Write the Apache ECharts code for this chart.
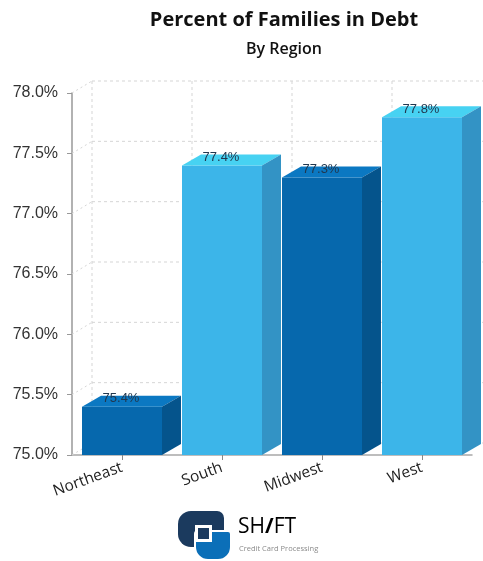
<!DOCTYPE html>
<html>
<head>
<meta charset="utf-8">
<script src="https://cdn.jsdelivr.net/npm/echarts@6/dist/echarts.min.js"></script>
<style>
  html, body { margin: 0; padding: 0; background: #ffffff; }
  #chart { width: 483px; height: 561px; }
</style>
</head>
<body>
<div id="chart"></div>
<script>
// Share of families carrying debt, by US region
const regions = ['Northeast', 'South', 'Midwest', 'West'];
const debtShare = [75.4, 77.4, 77.3, 77.8];
const yTicks = [75.0, 75.5, 76.0, 76.5, 77.0, 77.5, 78.0];

// Face colours (front / top / side) alternating dark and light blue
const palettes = [
  { front: '#0668ad', top: '#0b78c2', side: '#05548c' },
  { front: '#3cb5e9', top: '#47d2f2', side: '#3393c5' }
];

// Extrusion offsets for the pseudo-3D look
const BAR_DX = 19, BAR_DY = -11;
const WALL_DX = 20, WALL_DY = -12;
const GRID_COLOR = '#d6d6d6';
const SANS = '"Open Sans", Inter, sans-serif';

const chart = echarts.init(document.getElementById('chart'), null, { renderer: 'canvas' });

function renderBar(params, api) {
  const idx = api.value(0);
  const val = api.value(1);
  const band = api.size([1, 0])[0];
  const w = band * 0.8;
  const top = api.coord([idx, val]);
  const base = api.coord([idx, yTicks[0]]);
  const x0 = top[0] - w / 2, x1 = top[0] + w / 2;
  const yt = top[1], yb = base[1];
  const pal = palettes[idx % 2];
  return {
    type: 'group',
    children: [
      { type: 'rect', shape: { x: x0, y: yt, width: w, height: yb - yt }, style: { fill: pal.front } },
      { type: 'polygon', shape: { points: [[x0, yt], [x0 + BAR_DX, yt + BAR_DY], [x1 + BAR_DX, yt + BAR_DY], [x1, yt]] }, style: { fill: pal.top } },
      { type: 'polygon', shape: { points: [[x1, yt], [x1 + BAR_DX, yt + BAR_DY], [x1 + BAR_DX, yb + BAR_DY], [x1, yb]] }, style: { fill: pal.side } },
      {
        type: 'text',
        x: top[0] - 1, y: yt - 8,
        style: {
          text: val.toFixed(1) + '%',
          fill: '#22384f',
          font: '13px "Liberation Sans", Arial, sans-serif',
          align: 'center', verticalAlign: 'middle'
        }
      }
    ]
  };
}

function renderWallRow(params, api) {
  const v = api.value(0);
  const cs = params.coordSys;
  const p = api.coord([0, v]);
  const x = cs.x;
  return {
    type: 'group',
    children: [
      { type: 'line', shape: { x1: x, y1: p[1], x2: x + WALL_DX, y2: p[1] + WALL_DY }, style: { stroke: GRID_COLOR, lineWidth: 1, lineDash: [2, 3] } },
      { type: 'line', shape: { x1: x + WALL_DX, y1: p[1] + WALL_DY, x2: cs.x + cs.width + WALL_DX + 20, y2: p[1] + WALL_DY }, style: { stroke: GRID_COLOR, lineWidth: 1, lineDash: [3, 3] } }
    ]
  };
}

function renderWallColumn(params, api) {
  const idx = api.value(0);
  const band = api.size([1, 0])[0];
  const hi = api.coord([idx, yTicks[yTicks.length - 1]]);
  const lo = api.coord([idx, yTicks[0]]);
  const x = hi[0] - band / 2 + WALL_DX;
  return {
    type: 'line',
    shape: { x1: x, y1: hi[1] + WALL_DY, x2: x, y2: lo[1] + WALL_DY },
    style: { stroke: GRID_COLOR, lineWidth: 1, lineDash: [3, 3] }
  };
}

chart.setOption({
  animation: false,
  backgroundColor: '#ffffff',
  title: [
    {
      text: 'Percent of Families in Debt',
      left: 279, top: 5, textAlign: 'center',
      textStyle: { fontFamily: SANS, fontSize: 20, fontWeight: 'bold', color: '#111111' }
    },
    {
      text: 'By Region',
      left: 279, top: 36, textAlign: 'center',
      textStyle: { fontFamily: SANS, fontSize: 16, fontWeight: 600, color: '#111111' }
    }
  ],
  grid: { left: 72, right: 11, top: 93, bottom: 106 },
  xAxis: {
    type: 'category',
    data: regions,
    boundaryGap: true,
    axisLine: { lineStyle: { color: '#a8a8a8', width: 1.5 } },
    axisTick: { show: true, alignWithLabel: true, length: 5, lineStyle: { color: '#888' } },
    axisLabel: {
      rotate: 20, margin: 12,
      fontFamily: SANS, fontSize: 15.5, color: '#222222'
    }
  },
  yAxis: {
    type: 'value',
    min: 75, max: 78, interval: 0.5,
    axisLine: { show: true, lineStyle: { color: '#999999', width: 1.5 } },
    axisTick: { show: true, length: 5, lineStyle: { color: '#999999' } },
    splitLine: { show: false },
    axisLabel: {
      margin: 14,
      formatter: v => v.toFixed(1) + '%',
      fontFamily: '"Liberation Sans", Arial, sans-serif', fontSize: 16, color: '#333333'
    }
  },
  series: [
    { type: 'custom', name: 'wallRows', z: 1, silent: true, renderItem: renderWallRow, data: yTicks.map(v => [v]), encode: { y: 0 } },
    { type: 'custom', name: 'wallCols', z: 1, silent: true, renderItem: renderWallColumn, data: regions.map((r, i) => [i]), encode: { x: 0 } },
    { type: 'custom', name: 'Percent of Families in Debt', z: 3, renderItem: renderBar, data: debtShare.map((v, i) => [i, v]), encode: { x: 0, y: 1 } }
  ],
  graphic: [
    // SHIFT logo mark and wordmark
    { type: 'rect', shape: { x: 178, y: 511, width: 46, height: 36, r: [13, 7, 3, 13] }, style: { fill: '#1b3a5e' } },
    { type: 'rect', shape: { x: 195, y: 531, width: 36, height: 29, r: [3, 3, 13, 13] }, style: { fill: '#0b6fb8', stroke: '#ffffff', lineWidth: 2 } },
    { type: 'rect', shape: { x: 195, y: 525, width: 17, height: 17 }, style: { fill: '#ffffff' } },
    { type: 'rect', shape: { x: 198, y: 528, width: 11, height: 11 }, style: { fill: '#1b3a5e' } },
    {
      type: 'text', left: 238, top: 517,
      style: {
        text: '{g|SH}{s|/}{g|FT}',
        rich: {
          g: { fontFamily: SANS, fontSize: 21, color: '#6e6e6e', fontWeight: 400 },
          s: { fontFamily: SANS, fontSize: 21, color: '#0b6fb8', fontWeight: 'bold' }
        }
      }
    },
    {
      type: 'text', left: 239, top: 545,
      style: { text: 'Credit Card Processing', fontFamily: SANS, fontSize: 7.5, fill: '#8a8a8a' }
    }
  ]
});
</script>
</body>
</html>
